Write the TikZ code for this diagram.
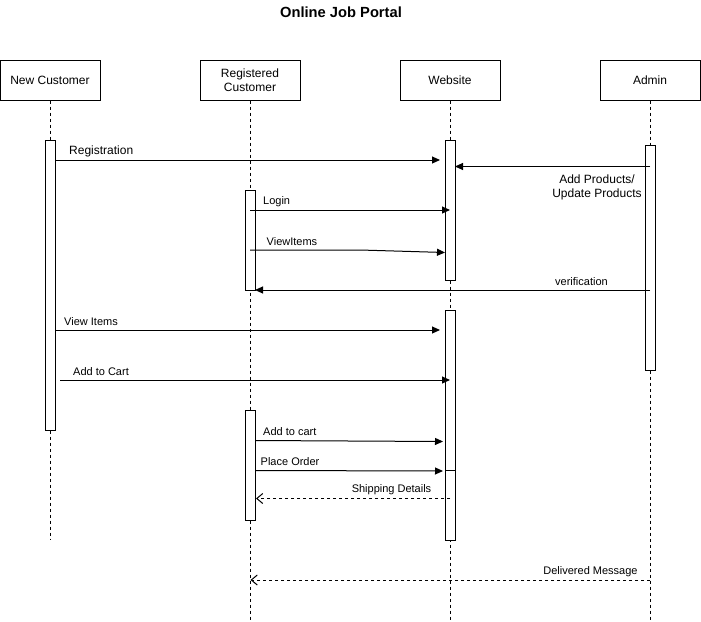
\documentclass[tikz,border=0pt]{standalone}
\usepackage{fontspec}
\setmainfont{Liberation Sans}
\usetikzlibrary{arrows.meta}
\begin{document}
\begin{tikzpicture}[x=1pt,y=-1pt,
  actor/.style={draw, line width=1pt, minimum width=100pt, minimum height=40pt, inner sep=0pt, align=center, font=\fontsize{12}{14}\selectfont},
  life/.style={line width=1pt, dash pattern=on 3pt off 3pt},
  bar/.style={draw, fill=white, line width=1pt, minimum width=10pt, inner sep=0pt},
  msg/.style={line width=1pt, -{Triangle[length=8pt,width=7pt]}},
  reply/.style={line width=1pt, dash pattern=on 3pt off 3pt, -{Straight Barb[length=6pt,width=10pt]}},
  lbl/.style={font=\fontsize{11}{13}\selectfont, inner sep=0pt, yshift=-1pt},
  lblb/.style={font=\fontsize{12}{14}\selectfont, inner sep=0pt, yshift=-1pt},
]
\useasboundingbox (0,0) rectangle (701,621);

% title
\node[font=\bfseries\fontsize{14.7}{17}\selectfont, inner sep=0pt] (title) at (341,12) {Online Job Portal};

% actors
\node[actor] (nc) at (50,80) {New Customer};
\node[actor] (rc) at (250,80) {Registered\\Customer};
\node[actor] (ws) at (450,80) {Website};
\node[actor] (ad) at (650,80) {Admin};

% lifeline ends
\coordinate (ncend) at (50,540);
\coordinate (rcend) at (250,620);
\coordinate (wsend) at (450,620);
\coordinate (adend) at (650,620);

\draw[life] (nc.south) -- (ncend);
\draw[life] (rc.south) -- (rcend);
\draw[life] (ws.south) -- (wsend);
\draw[life] (ad.south) -- (adend);

% activation bars
\node[bar, minimum height=290pt] (ncb) at (50,285) {};
\node[bar, minimum height=100pt] (rcb1) at (250,240) {};
\node[bar, minimum height=110pt] (rcb2) at (250,465) {};
\node[bar, minimum height=140pt] (wsb1) at (450,210) {};
\node[bar, minimum height=160pt] (wsb2) at (450,390) {};
\node[bar, minimum height=70pt] (wsb3) at (450,505) {};
\node[bar, minimum height=225pt] (adb) at (650,257.5) {};

% message end points
\coordinate (m1a) at (55,160);   \coordinate (m1b) at (440,160);
\coordinate (m2a) at (650,166.5);\coordinate (m2b) at (455,166.5);
\coordinate (m3a) at (250,210);  \coordinate (m3b) at (450,210);
\coordinate (m4a) at (250,250);  \coordinate (m4m) at (360,250); \coordinate (m4b) at (445,252.5);
\coordinate (m5a) at (650,290);  \coordinate (m5b) at (255,290);
\coordinate (m6a) at (55,330);   \coordinate (m6b) at (440,330);
\coordinate (m7a) at (60,380);   \coordinate (m7b) at (450,380);
\coordinate (m8a) at (255,440.5);\coordinate (m8b) at (443,441.5);
\coordinate (m9a) at (255,470.5);\coordinate (m9b) at (443,471);
\coordinate (m10a) at (450,498.5);\coordinate (m10b) at (256,498.5);
\coordinate (m11a) at (650,580);\coordinate (m11b) at (250.5,580);

% messages
\draw[msg] (m1a) -- (m1b);
\draw[msg] (m2a) -- (m2b);
\draw[msg] (m3a) -- (m3b);
\draw[msg] (m4a) -- (m4m) -- (m4b);
\draw[msg] (m5a) -- (m5b);
\draw[msg] (m6a) -- (m6b);
\draw[msg] (m7a) -- (m7b);
\draw[msg] (m8a) -- (m8b);
\draw[msg] (m9a) -- (m9b);
\draw[reply] (m10a) -- (m10b);
\draw[reply] (m11a) -- (m11b);

% labels
\node[lblb, anchor=west] (l1) at (69,150) {Registration};
\node[lblb, align=center] (l2) at (597,186) {Add Products/\\Update Products};
\node[lbl, anchor=west] (l3) at (263,201) {Login};
\node[lbl, anchor=west] (l4) at (266.5,241) {ViewItems};
\node[lbl] (l5) at (581.5,281) {verification};
\node[lbl, anchor=west] (l6) at (64,321) {View Items};
\node[lbl, anchor=west] (l7) at (73,371) {Add to Cart};
\node[lbl, anchor=west] (l8) at (263,431) {Add to cart};
\node[lbl, anchor=west] (l9) at (260.5,461) {Place Order};
\node[lbl] (l10) at (391.5,489) {Shipping Details};
\node[lbl] (l11) at (590.5,571) {Delivered Message};
\end{tikzpicture}
\end{document}
